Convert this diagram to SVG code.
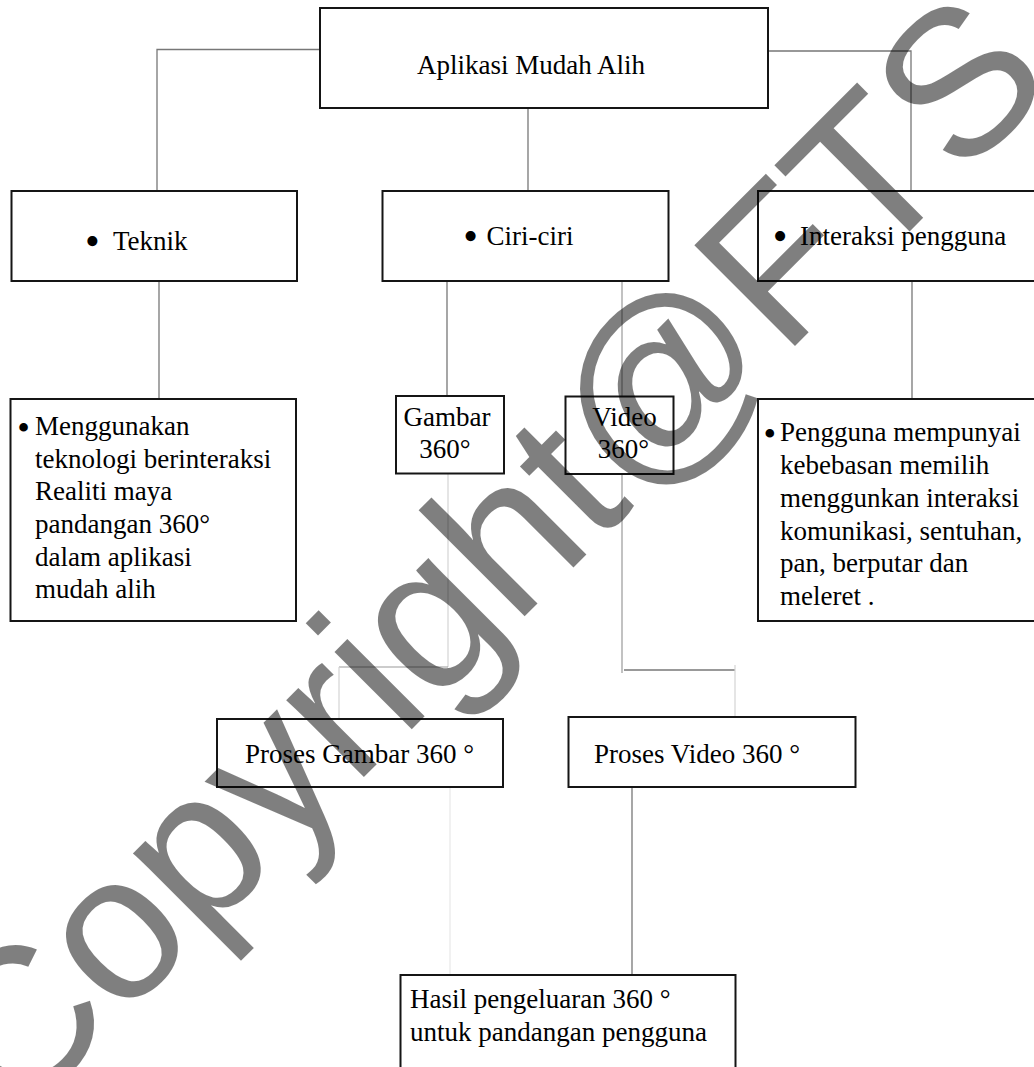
<svg xmlns="http://www.w3.org/2000/svg" width="1034" height="1067" viewBox="0 0 1034 1067">
<style>
.box{fill:#fff;stroke:#151515;stroke-width:2}
.t{font-family:"Liberation Serif","Times New Roman",serif;font-size:27px;fill:#000}
.c{text-anchor:middle}
.bul{font-family:"Liberation Serif","Times New Roman",serif;font-size:42px;fill:#000;text-anchor:middle}
.ln{fill:none;stroke:#777;stroke-width:1.3}
.ln2{fill:none;stroke:#999;stroke-width:1.2}
.ln3{fill:none;stroke:#d4d4d4;stroke-width:1.2}
.ln4{fill:none;stroke:#e8e8e8;stroke-width:1.2}
.wm{font-family:"Liberation Sans",Arial,sans-serif;font-size:207px;fill:#000;fill-opacity:0.5}
</style>
<rect width="1034" height="1067" fill="#fff"/>
<g id="connectors">
<polyline class="ln" points="320,49.5 157,49.5 157,191"/>
<line class="ln" x1="528" y1="108" x2="528" y2="191"/>
<polyline class="ln" points="768,51 911,51 911,191"/>
<line class="ln" x1="159" y1="281" x2="159" y2="399"/>
<line class="ln" x1="447" y1="281" x2="447" y2="396"/>
<line class="ln2" x1="622" y1="277" x2="622" y2="673"/>
<line class="ln" x1="912" y1="281" x2="912" y2="399"/>
<line class="ln3" x1="448" y1="474" x2="448" y2="667"/>
<line class="ln2" x1="339" y1="667" x2="448" y2="667"/>
<line class="ln3" x1="339" y1="667" x2="339" y2="718"/>
<line class="ln" x1="624" y1="670" x2="735" y2="670"/>
<line class="ln3" x1="735" y1="665" x2="735" y2="717"/>
<line class="ln4" x1="450" y1="787" x2="450" y2="975"/>
<line class="ln" x1="632" y1="787" x2="632" y2="975"/>
</g>
<g id="node-aplikasi">
<rect class="box" x="320" y="8" width="448" height="100"/>
<text class="t" x="417" y="74">Aplikasi Mudah Alih</text>
</g>
<g id="node-teknik">
<rect class="box" x="11.5" y="191" width="285.5" height="90"/>
<text class="bul" x="92.3" y="255">•</text>
<text class="t" x="113" y="250">Teknik</text>
</g>
<g id="node-ciri">
<rect class="box" x="382.5" y="191" width="286" height="90"/>
<text class="bul" x="470.5" y="250">•</text>
<text class="t" x="486.5" y="245">Ciri-ciri</text>
</g>
<g id="node-interaksi">
<rect class="box" x="758" y="191" width="290" height="90"/>
<text class="bul" x="780" y="250">•</text>
<text class="t" x="800" y="245">Interaksi pengguna</text>
</g>
<g id="node-menggunakan">
<rect class="box" x="10.5" y="399" width="285.5" height="222"/>
<text class="bul" x="23.5" y="440" style="font-size:36px">•</text>
<text class="t" x="35" y="435">Menggunakan</text>
<text class="t" x="35" y="468">teknologi berinteraksi</text>
<text class="t" x="35" y="500">Realiti maya</text>
<text class="t" x="35" y="533">pandangan 360°</text>
<text class="t" x="35" y="566">dalam aplikasi</text>
<text class="t" x="35" y="598">mudah alih</text>
</g>
<g id="node-gambar">
<rect class="box" x="396" y="396" width="108" height="77.5"/>
<text class="t c" x="447" y="426">Gambar</text>
<text class="t c" x="445" y="458">360°</text>
</g>
<g id="node-video">
<rect class="box" x="565.5" y="396.5" width="108" height="77.5"/>
<text class="t c" x="624.5" y="426">Video</text>
<text class="t c" x="623.5" y="458">360°</text>
</g>
<g id="node-pengguna">
<rect class="box" x="758" y="399" width="290" height="222"/>
<text class="bul" x="769.7" y="446" style="font-size:36px">•</text>
<text class="t" x="780" y="441">Pengguna mempunyai</text>
<text class="t" x="780" y="474">kebebasan memilih</text>
<text class="t" x="780" y="507">menggunkan interaksi</text>
<text class="t" x="780" y="540">komunikasi, sentuhan,</text>
<text class="t" x="780" y="572">pan, berputar dan</text>
<text class="t" x="780" y="605">meleret .</text>
</g>
<g id="node-proses-gambar">
<rect class="box" x="217" y="719" width="286" height="68"/>
<text class="t" x="245" y="763">Proses Gambar 360 °</text>
</g>
<g id="node-proses-video">
<rect class="box" x="568.5" y="717" width="287" height="70"/>
<text class="t" x="594" y="763">Proses Video 360 °</text>
</g>
<g id="node-hasil">
<rect class="box" x="400.5" y="975" width="335" height="100"/>
<text class="t" x="410" y="1008">Hasil pengeluaran 360 °</text>
<text class="t" x="410" y="1041">untuk pandangan pengguna</text>
</g>
<text class="wm" transform="translate(15,1126) rotate(-45)" letter-spacing="-1">Copyright@FTS</text>
</svg>
